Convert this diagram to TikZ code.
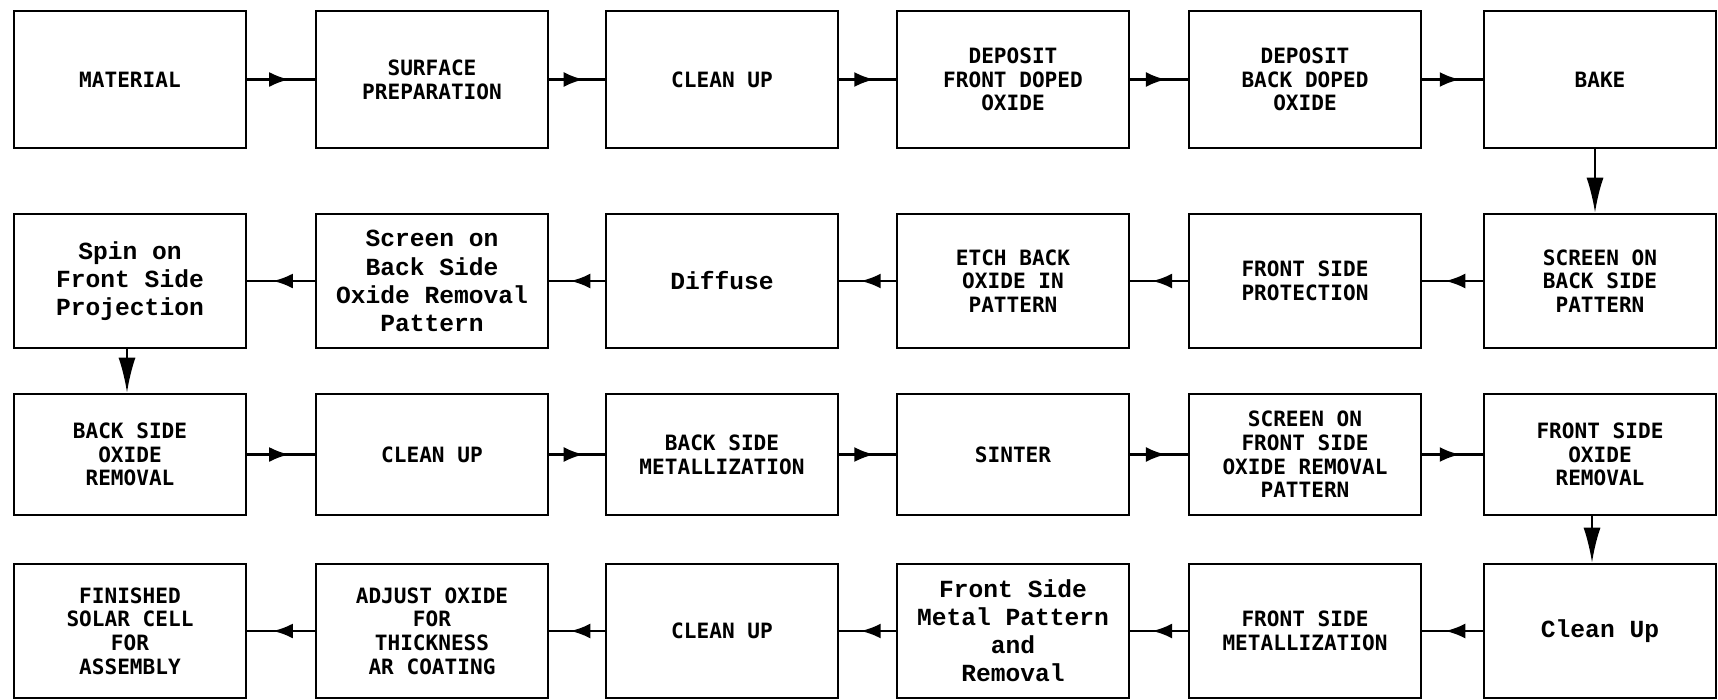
\documentclass[tikz,border=0pt]{standalone}
\usepackage{fontspec}
\usetikzlibrary{positioning}
\usetikzlibrary{arrows.meta}
\usetikzlibrary{decorations.markings}
\newfontfamily\capsfont{DejaVu Sans Mono}
\newfontfamily\typefont{Liberation Mono}

\begin{document}
\begin{tikzpicture}[
    x=0.02cm, y=-0.02cm,
    stage/.style={draw, line width=1.5pt, minimum width=4.64cm, align=center, inner sep=2pt,
        font=\capsfont\bfseries\fontsize{12}{13.5}\selectfont},
    stagelc/.style={stage, font=\typefont\bfseries\fontsize{14}{16}\selectfont},
    flow/.style={line width=1.5pt, postaction={decorate},
        decoration={markings, mark=at position 0.62 with {\arrow{Latex[length=4mm,width=3mm]}}}},
    drop/.style={line width=1.3pt, -{Latex[length=7mm,width=3.4mm]}}
]
    \useasboundingbox (0,0) rectangle (1718,700);

    % first row
    \begin{scope}[every node/.append style={minimum height=2.74cm}]
    \node[stage] (a1) at (130, 79.5) {MATERIAL};
    \node[stage] (a2) at (432, 79.5) {SURFACE\\PREPARATION};
    \node[stage] (a3) at (722, 79.5) {CLEAN UP};
    \node[stage] (a4) at (1013, 79.5) {DEPOSIT\\FRONT DOPED\\OXIDE};
    \node[stage] (a5) at (1305, 79.5) {DEPOSIT\\BACK DOPED\\OXIDE};
    \node[stage] (a6) at (1600, 79.5) {BAKE};
    \end{scope}

    % second row
    \begin{scope}[every node/.append style={minimum height=2.68cm}]
    \node[stagelc] (b1) at (130, 281) {Spin on\\Front Side\\Projection};
    \node[stagelc] (b2) at (432, 281) {Screen on\\Back Side\\Oxide Removal\\Pattern};
    \node[stagelc] (b3) at (722, 281) {Diffuse};
    \node[stage] (b4) at (1013, 281) {ETCH BACK\\OXIDE IN\\PATTERN};
    \node[stage] (b5) at (1305, 281) {FRONT SIDE\\PROTECTION};
    \node[stage] (b6) at (1600, 281) {SCREEN ON\\BACK SIDE\\PATTERN};
    \end{scope}

    % third row
    \begin{scope}[every node/.append style={minimum height=2.42cm}]
    \node[stage] (c1) at (130, 454.5) {BACK SIDE\\OXIDE\\REMOVAL};
    \node[stage] (c2) at (432, 454.5) {CLEAN UP};
    \node[stage] (c3) at (722, 454.5) {BACK SIDE\\METALLIZATION};
    \node[stage] (c4) at (1013, 454.5) {SINTER};
    \node[stage] (c5) at (1305, 454.5) {SCREEN ON\\FRONT SIDE\\OXIDE REMOVAL\\PATTERN};
    \node[stage] (c6) at (1600, 454.5) {FRONT SIDE\\OXIDE\\REMOVAL};
    \end{scope}

    % fourth row
    \begin{scope}[every node/.append style={minimum height=2.68cm}]
    \node[stage] (d1) at (130, 631) {FINISHED\\SOLAR CELL\\FOR\\ASSEMBLY};
    \node[stage] (d2) at (432, 631) {ADJUST OXIDE\\FOR\\THICKNESS\\AR COATING};
    \node[stage] (d3) at (722, 631) {CLEAN UP};
    \node[stagelc] (d4) at (1013, 631) {Front Side\\Metal Pattern\\and\\Removal};
    \node[stage] (d5) at (1305, 631) {FRONT SIDE\\METALLIZATION};
    \node[stagelc] (d6) at (1600, 631) {Clean Up};
    \end{scope}

    \foreach \u/\v in {a1/a2, a2/a3, a3/a4, a4/a5, a5/a6,
                       b6/b5, b5/b4, b4/b3, b3/b2, b2/b1,
                       c1/c2, c2/c3, c3/c4, c4/c5, c5/c6,
                       d6/d5, d5/d4, d4/d3, d3/d2, d2/d1} {
        \draw[flow] (\u) -- (\v);
    }

    \draw[drop] ([xshift=-0.1cm]a6.south) -- ([xshift=-0.1cm]b6.north);
    \draw[drop] ([xshift=-0.06cm]b1.south) -- ([xshift=-0.06cm]c1.north);
    \draw[drop] ([xshift=-0.16cm]c6.south) -- ([xshift=-0.16cm]d6.north);
\end{tikzpicture}
\end{document}
